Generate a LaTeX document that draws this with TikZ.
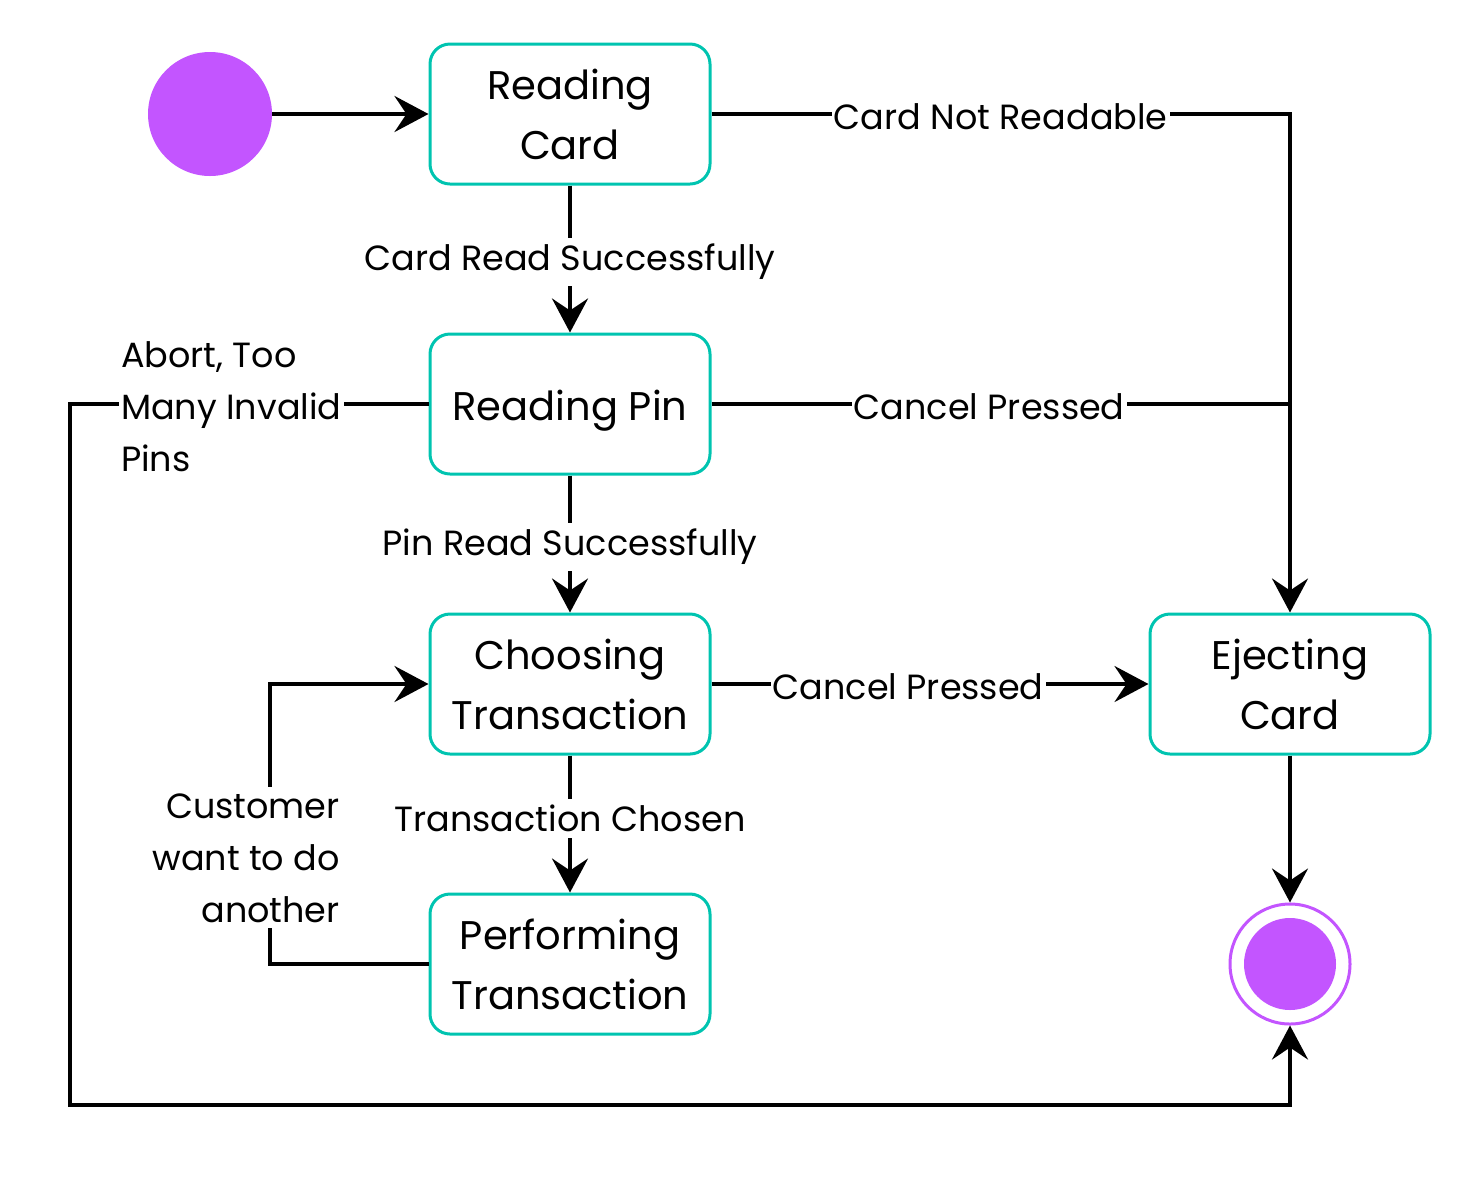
\documentclass[tikz,border=0pt]{standalone}
\usepackage{fontspec}
\setmainfont{Poppins}
\usetikzlibrary{arrows.meta}

\definecolor{stateteal}{HTML}{00C4B0}
\definecolor{statepurple}{HTML}{C355FF}

\tikzset{
  state/.style={draw=stateteal, line width=1.5pt, rounded corners=10pt,
    minimum width=140pt, minimum height=70pt, align=center, fill=white,
    font=\fontsize{20}{30}\selectfont},
  initst/.style={circle, fill=statepurple, minimum size=62pt, inner sep=0pt},
  finalst/.style={circle, draw=statepurple, line width=1.5pt, fill=white,
    minimum size=60pt, inner sep=0pt},
  trans/.style={line width=2pt, -{Stealth[length=17pt,width=18pt,inset=6pt]}},
  lbl/.style={fill=white, inner xsep=1pt, inner ysep=3pt, yshift=-1.5pt, font=\fontsize{17.5}{26}\selectfont}
}

\begin{document}
\begin{tikzpicture}[x=0.5pt, y=-0.5pt]
  \useasboundingbox (0,0) rectangle (1472,1180);

  % states
  \node[initst] (init) at (210,114) {};
  \node[state] (readcard) at (570,114) {Reading\\Card};
  \node[state] (readpin) at (570,404) {\raisebox{-3.5pt}[\height][\depth]{Reading Pin}};
  \node[state] (choose) at (570,684) {Choosing\\Transaction};
  \node[state] (perform) at (570,964) {Performing\\Transaction};
  \node[state] (eject) at (1290,684) {Ejecting\\Card};
  \node[finalst] (final) at (1290,964) {};
  \node[circle, fill=statepurple, minimum size=46pt, inner sep=0pt] (finaldot) at (final) {};

  % bend points
  \coordinate (abortleft) at (70,404);
  \coordinate (abortbot) at (70,1105);
  \coordinate (againbot) at (270,964);
  \coordinate (againtop) at (270,684);

  % transitions
  \draw[trans] (init) -- (readcard);
  \draw[trans] (readcard) -- node[lbl] {Card Not Readable} (readcard -| eject) -- (eject);
  \draw[trans] (readcard) -- node[lbl] {Card Read Successfully} (readpin);
  \draw[line width=2pt] (readpin) -- node[lbl, pos=0.48] {Cancel Pressed} (readpin -| eject);
  \draw[trans] (readpin) -- node[lbl, pos=0.55, align=left] {Abort, Too\\Many Invalid\\Pins}
    (abortleft) -- (abortbot) -- (abortbot -| final) -- (final);
  \draw[trans] (readpin) -- node[lbl] {Pin Read Successfully} (choose);
  \draw[trans] (choose) -- node[lbl, pos=0.45] {Cancel Pressed} (eject);
  \draw[trans] (choose) -- node[lbl, pos=0.44] {Transaction Chosen} (perform);
  \draw[trans] (perform) -- (againbot) -- node[lbl, pos=0.39, align=right, xshift=-12pt] {Customer\\want to do\\another}
    (againtop) -- (choose);
  \draw[trans] (eject) -- (final);
\end{tikzpicture}
\end{document}
